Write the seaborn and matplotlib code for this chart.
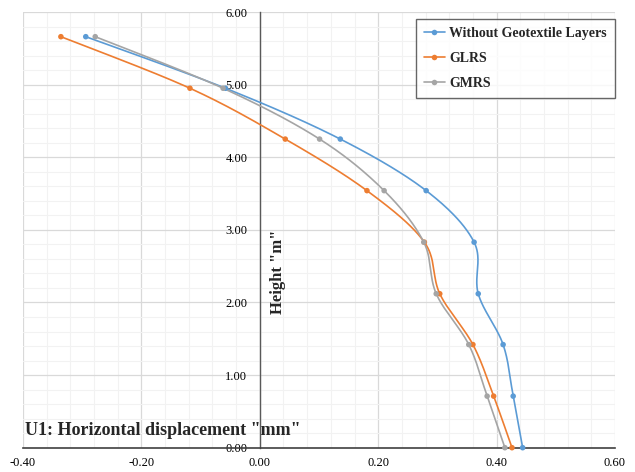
import numpy as np
import pandas as pd
import matplotlib
matplotlib.use("Agg")
import matplotlib.pyplot as plt
from matplotlib.ticker import MultipleLocator, FormatStrFormatter
from matplotlib.lines import Line2D
import seaborn as sns

# Height of each measuring point (m)
heights = [0.00, 0.71, 1.42, 2.12, 2.83, 3.54, 4.25, 4.95, 5.66]

# Horizontal displacement U1 (mm) at each height
without_geotextile = [0.444, 0.428, 0.411, 0.369, 0.362, 0.281, 0.136, -0.058, -0.294]
glrs = [0.426, 0.395, 0.360, 0.304, 0.278, 0.181, 0.043, -0.118, -0.336]
gmrs = [0.414, 0.384, 0.353, 0.298, 0.277, 0.210, 0.101, -0.062, -0.278]

series_names = ["Without Geotextile Layers", "GLRS", "GMRS"]
series_values = [without_geotextile, glrs, gmrs]
colors = ["#5B9BD5", "#ED7D31", "#A5A5A5"]
x_ticks = [-0.40, -0.20, 0.00, 0.20, 0.40, 0.60]
y_ticks = [0.00, 1.00, 2.00, 3.00, 4.00, 5.00, 6.00]


def smooth_curve(xs, ys, n=40):
    """Bezier smoothing through the points (Catmull-Rom style control points)."""
    p = np.column_stack([xs, ys]).astype(float)
    ext = np.vstack([p[0], p, p[-1]])
    t = np.linspace(0, 1, n)[:, None]
    segs = []
    for i in range(1, len(ext) - 2):
        p0, p1, p2, p3 = ext[i - 1], ext[i], ext[i + 1], ext[i + 2]
        b1 = p1 + (p2 - p0) / 6.0
        b2 = p2 - (p3 - p1) / 6.0
        seg = ((1 - t) ** 3) * p1 + 3 * ((1 - t) ** 2) * t * b1 \
            + 3 * (1 - t) * t ** 2 * b2 + t ** 3 * p2
        segs.append(seg if i == len(ext) - 3 else seg[:-1])
    out = np.vstack(segs)
    return out[:, 0], out[:, 1]


point_rows = []
curve_rows = []
for name, vals in zip(series_names, series_values):
    for x, y in zip(vals, heights):
        point_rows.append({"disp": x, "height": y, "series": name})
    cx, cy = smooth_curve(vals, heights)
    for k, (x, y) in enumerate(zip(cx, cy)):
        curve_rows.append({"disp": x, "height": y, "series": name, "order": k})
points = pd.DataFrame(point_rows)
curves = pd.DataFrame(curve_rows)

sns.set_style("white")
plt.rcParams["font.family"] = ["Liberation Serif", "DejaVu Serif"]

fig = plt.figure(figsize=(6.35, 4.72), dpi=100)
ax = fig.add_axes([23 / 635, 1 - 447.7 / 472, 592 / 635, 435.7 / 472])

palette = dict(zip(series_names, colors))
sns.lineplot(data=curves, x="disp", y="height", hue="series", palette=palette,
             sort=False, estimator=None, legend=False, linewidth=1.2, ax=ax,
             zorder=3)
sns.scatterplot(data=points, x="disp", y="height", hue="series", palette=palette,
                s=16, edgecolor="none", legend=False, ax=ax, zorder=4,
                clip_on=False)

ax.set_xlim(-0.4, 0.6)
ax.set_ylim(0, 6)
ax.xaxis.set_major_locator(MultipleLocator(0.2))
ax.xaxis.set_minor_locator(MultipleLocator(0.04))
ax.yaxis.set_major_locator(MultipleLocator(1.0))
ax.yaxis.set_minor_locator(MultipleLocator(0.2))
ax.set_xticks(x_ticks)
ax.set_yticks(y_ticks)
ax.xaxis.set_major_formatter(FormatStrFormatter("%.2f"))
ax.yaxis.set_major_formatter(FormatStrFormatter("%.2f"))

ax.grid(which="major", color="#d9d9d9", linewidth=0.9)
ax.grid(which="minor", color="#f2f2f2", linewidth=0.8)
ax.set_axisbelow(True)

for side in ["top", "right"]:
    ax.spines[side].set_visible(False)
ax.spines["left"].set_position(("data", 0))
ax.spines["left"].set_color("#595959")
ax.spines["bottom"].set_color("#404040")
ax.spines["left"].set_linewidth(1.0)
ax.spines["bottom"].set_linewidth(1.2)

ax.tick_params(axis="x", which="major", direction="inout", length=6,
               width=1.0, color="#404040", labelsize=9, pad=4,
               labelcolor="#000000")
ax.tick_params(axis="y", which="major", length=0, labelsize=9, pad=9,
               labelcolor="#000000")
ax.tick_params(which="minor", length=0)

# Axis titles sit inside the plot area, drawn above the gridlines
ax.set_xlabel("")
ax.set_ylabel("")
ax.text(0.004, 0.04, 'U1: Horizontal displacement "mm"', transform=ax.transAxes,
        fontsize=13, fontweight="bold", ha="left", va="center", zorder=6)
ax.text(0.431, 0.403, 'Height "m"', transform=ax.transAxes, rotation=90,
        fontsize=12, fontweight="bold", ha="center", va="center", zorder=6)

handles = [Line2D([0], [0], color=c, linewidth=1.2, marker="o", markersize=4,
                  markeredgewidth=0) for c in colors]
leg = ax.legend(handles, series_names, loc="upper right",
                bbox_to_anchor=(1.0, 0.984), borderaxespad=0,
                prop={"family": "Liberation Serif", "weight": "bold",
                      "size": 10},
                frameon=True, fancybox=False, edgecolor="#404040",
                handlelength=1.5, handletextpad=0.3, labelspacing=0.85,
                borderpad=0.6)
leg.get_frame().set_linewidth(1.0)

fig.savefig("out.png", dpi=100)
